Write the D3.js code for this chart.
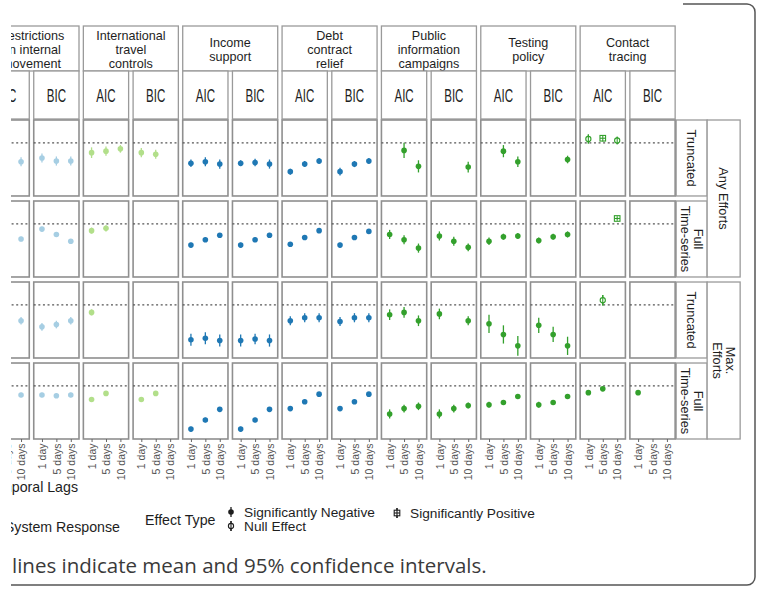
<!DOCTYPE html>
<html lang="en">
<head>
<meta charset="utf-8">
<title>Policy effects by lag</title>
<script src="https://d3js.org/d3.v7.min.js"></script>
<style>
body { margin: 0; background: #fff; }
</style>
</head>
<body>
<div id="chart"></div>
<script>

var w = 763;
var h = 597;

var policies = ["Restrictions\non internal\nmovement", "International\ntravel\ncontrols", "Income\nsupport",
  "Debt\ncontract\nrelief", "Public\ninformation\ncampaigns", "Testing\npolicy", "Contact\ntracing"];
var policyColors = ["#a6cee3", "#b2df8a", "#1f78b4", "#1f78b4", "#33a02c", "#33a02c", "#33a02c"];
var criteria = ["AIC", "BIC"];
var lags = ["1 day", "5 days", "10 days"];
var samples = ["Truncated", "Full\nTime-series"];
var efforts = ["Any Efforts", "Max.\nEfforts"];

// estimates, one line per policy: AIC (1, 5, 10 days) then BIC (1, 5, 10 days)
var estAnyTrunc = [
  null, null, -0.25,  -0.20, -0.24, -0.24,
  -0.13, -0.11, -0.08,  -0.13, -0.15, null,
  -0.27, -0.25, -0.28,  -0.27, -0.26, -0.28,
  -0.38, -0.28, -0.24,  -0.38, -0.28, -0.24,
  null, -0.10, -0.31,  null, null, -0.32,
  null, -0.11, -0.25,  null, null, -0.22,
  0.05, 0.06, 0.03,  null, null, null
];
var ciAnyTrunc = [
  0, 0, 0.06,  0.06, 0.06, 0.06,
  0.07, 0.06, 0.05,  0.06, 0.06, 0,
  0.05, 0.06, 0.06,  0.04, 0.05, 0.06,
  0.04, 0.04, 0.04,  0.05, 0.04, 0.04,
  0, 0.10, 0.08,  0, 0, 0.07,
  0, 0.08, 0.07,  0, 0, 0.05,
  0.06, 0.04, 0.05,  0, 0, 0
];
var effAnyTrunc = [
  "N", "N", "N",  "N", "N", "N",
  "N", "N", "N",  "N", "N", "N",
  "N", "N", "N",  "N", "N", "N",
  "N", "N", "N",  "N", "N", "N",
  "N", "N", "N",  "N", "N", "N",
  "N", "N", "N",  "N", "N", "N",
  "0", "P", "0",  "N", "N", "N"
];

var estAnyFull = [
  null, null, -0.20,  -0.07, -0.14, -0.23,
  -0.09, -0.06, null,  null, null, null,
  -0.28, -0.21, -0.15,  -0.28, -0.21, -0.15,
  -0.27, -0.18, -0.09,  -0.28, -0.18, -0.10,
  -0.14, -0.21, -0.32,  -0.16, -0.23, -0.31,
  -0.23, -0.17, -0.16,  -0.22, -0.17, -0.14,
  null, null, 0.07,  null, null, null
];
var ciAnyFull = [
  0, 0, 0.03,  0.03, 0.03, 0.03,
  0.04, 0.04, 0,  0, 0, 0,
  0.03, 0.03, 0.03,  0.03, 0.03, 0.03,
  0.03, 0.03, 0.03,  0.03, 0.03, 0.03,
  0.06, 0.06, 0.06,  0.06, 0.06, 0.05,
  0.05, 0.04, 0.04,  0.04, 0.04, 0.04,
  0, 0, 0.03,  0, 0, 0
];
var effAnyFull = [
  "N", "N", "N",  "N", "N", "N",
  "N", "N", "N",  "N", "N", "N",
  "N", "N", "N",  "N", "N", "N",
  "N", "N", "N",  "N", "N", "N",
  "N", "N", "N",  "N", "N", "N",
  "N", "N", "N",  "N", "N", "N",
  "N", "N", "P",  "N", "N", "N"
];

var estMaxTrunc = [
  null, null, -0.21,  -0.29, -0.26, -0.21,
  -0.10, null, null,  null, null, null,
  -0.46, -0.44, -0.47,  -0.47, -0.45, -0.47,
  -0.21, -0.17, -0.17,  -0.22, -0.17, -0.17,
  -0.13, -0.10, -0.21,  -0.12, null, -0.21,
  -0.25, -0.39, -0.54,  -0.27, -0.39, -0.54,
  null, 0.06, null,  null, null, null
];
var ciMaxTrunc = [
  0, 0, 0.05,  0.05, 0.05, 0.05,
  0.04, 0, 0,  0, 0, 0,
  0.08, 0.08, 0.08,  0.08, 0.07, 0.08,
  0.06, 0.06, 0.06,  0.06, 0.06, 0.06,
  0.07, 0.07, 0.07,  0.07, 0, 0.06,
  0.12, 0.12, 0.13,  0.10, 0.10, 0.12,
  0, 0.07, 0,  0, 0, 0
];
var effMaxTrunc = [
  "N", "N", "N",  "N", "N", "N",
  "N", "N", "N",  "N", "N", "N",
  "N", "N", "N",  "N", "N", "N",
  "N", "N", "N",  "N", "N", "N",
  "N", "N", "N",  "N", "N", "N",
  "N", "N", "N",  "N", "N", "N",
  "N", "0", "N",  "N", "N", "N"
];

var estMaxFull = [
  null, null, -0.12,  -0.12, -0.13, -0.12,
  -0.18, -0.10, null,  -0.18, -0.10, null,
  -0.57, -0.45, -0.31,  -0.57, -0.45, -0.31,
  -0.30, -0.21, -0.11,  -0.30, -0.21, -0.11,
  -0.37, -0.30, -0.27,  -0.37, -0.30, -0.26,
  -0.25, -0.22, -0.14,  -0.25, -0.22, -0.14,
  -0.09, -0.04, null,  -0.09, null, null
];
var ciMaxFull = [
  0, 0, 0.03,  0.03, 0.03, 0.03,
  0.03, 0.03, 0,  0.03, 0.03, 0,
  0.03, 0.03, 0.03,  0.03, 0.03, 0.03,
  0.03, 0.03, 0.03,  0.03, 0.03, 0.03,
  0.06, 0.05, 0.05,  0.06, 0.05, 0.04,
  0.04, 0.03, 0.03,  0.04, 0.03, 0.03,
  0.02, 0.02, 0,  0.02, 0, 0
];
var effMaxFull = [
  "N", "N", "N",  "N", "N", "N",
  "N", "N", "N",  "N", "N", "N",
  "N", "N", "N",  "N", "N", "N",
  "N", "N", "N",  "N", "N", "N",
  "N", "N", "N",  "N", "N", "N",
  "N", "N", "N",  "N", "N", "N",
  "N", "N", "N",  "N", "N", "N"
];

var effectTypes = ["N", "0", "P"];
var effectLabels = ["Significantly Negative", "Null Effect", "Significantly Positive"];

var rows = [
  {effort: 0, sample: 0, est: estAnyTrunc, ci: ciAnyTrunc, eff: effAnyTrunc},
  {effort: 0, sample: 1, est: estAnyFull, ci: ciAnyFull, eff: effAnyFull},
  {effort: 1, sample: 0, est: estMaxTrunc, ci: ciMaxTrunc, eff: effMaxTrunc},
  {effort: 1, sample: 1, est: estMaxFull, ci: ciMaxFull, eff: effMaxFull}
];

var font = "'Liberation Sans', Arial, sans-serif";
var stripStroke = "#9a9a9a";
var ink = "#1e1e1e";

var root = d3.select("#chart").append("svg")
  .attr("width", w)
  .attr("height", h)
  .style("font-family", font);

// the figure is shown cut at its left side
root.append("clipPath").attr("id", "cut")
  .append("rect").attr("x", 11).attr("y", 0).attr("width", w - 11).attr("height", h);
var svg = root.append("g").attr("clip-path", "url(#cut)");

// scales
var xGroup = d3.scaleBand().domain(d3.range(policies.length)).range([-16, 679.5]);
var xCrit = d3.scaleBand().domain(criteria).range([0, 95]).paddingInner(0.09);
var pw = xCrit.bandwidth();
var xLag = d3.scalePoint().domain(lags).range([0, pw]).padding(0.57);
var yRow = d3.scaleBand().domain(d3.range(rows.length)).range([120, 439]).paddingInner(0.062);
var ph = yRow.bandwidth();
var yVal = d3.scaleLinear().domain([-0.7, 0.3]).range([ph, 0]);

function multiline(sel, txt, lineH, shift) {
  var parts = txt.split("\n");
  parts.forEach(function(p, i) {
    sel.append("tspan")
      .attr("x", 0)
      .attr("dy", i == 0 ? (-(parts.length - 1) / 2 * lineH + shift) : lineH)
      .text(p);
  });
}

function glyph(g, type, cx, cy, col, half) {
  g.append("line")
    .attr("x1", cx).attr("x2", cx)
    .attr("y1", cy - half).attr("y2", cy + half)
    .attr("stroke", col).attr("stroke-width", 1.3);
  if (type == "N") {
    g.append("circle").attr("cx", cx).attr("cy", cy).attr("r", 2.8).attr("fill", col);
  } else if (type == "0") {
    g.append("circle").attr("cx", cx).attr("cy", cy).attr("r", 2.6)
      .attr("fill", "#fff").attr("stroke", col).attr("stroke-width", 1.1);
    g.append("line").attr("x1", cx).attr("x2", cx).attr("y1", cy - half).attr("y2", cy + half)
      .attr("stroke", col).attr("stroke-width", 1.1);
  } else {
    g.append("rect").attr("x", cx - 2.8).attr("y", cy - 2.8).attr("width", 5.6).attr("height", 5.6)
      .attr("fill", "#fff").attr("stroke", col).attr("stroke-width", 1.1);
    g.append("line").attr("x1", cx - 2.8).attr("x2", cx + 2.8).attr("y1", cy).attr("y2", cy)
      .attr("stroke", col).attr("stroke-width", 1.1);
    g.append("line").attr("x1", cx).attr("x2", cx).attr("y1", cy - half).attr("y2", cy + half)
      .attr("stroke", col).attr("stroke-width", 1.1);
  }
}

// frame of the surrounding box
svg.append("path")
  .attr("d", "M683,4 H747 A8,8 0 0 1 755,12 V577 A8,8 0 0 1 747,585 H-10")
  .attr("fill", "none")
  .attr("stroke", "#555")
  .attr("stroke-width", 1.5);

// policy strips
policies.forEach(function(p, i) {
  var x0 = xGroup(i);
  var x1 = xGroup(i) + xCrit("BIC") + pw;
  svg.append("rect")
    .attr("x", x0).attr("y", 26).attr("width", x1 - x0).attr("height", 45)
    .attr("fill", "#fff").attr("stroke", stripStroke).attr("stroke-width", 1.3);
  var t = svg.append("text")
    .attr("transform", "translate(" + ((x0 + x1) / 2) + ",49.7)")
    .attr("text-anchor", "middle")
    .attr("font-size", 12.6)
    .attr("fill", ink);
  multiline(t, p, 13.8, 4.5);

  criteria.forEach(function(c) {
    svg.append("rect")
      .attr("x", x0 + xCrit(c)).attr("y", 71).attr("width", pw).attr("height", 48)
      .attr("fill", "#fff").attr("stroke", stripStroke).attr("stroke-width", 1.3);
    svg.append("text")
      .attr("transform", "translate(" + (x0 + xCrit(c) + pw / 2) + ",101.5) scale(0.66,1)")
      .attr("text-anchor", "middle")
      .attr("font-size", 17.5)
      .attr("fill", ink)
      .text(c);
  });
});

// right strips
var rx0 = xGroup(policies.length - 1) + xCrit("BIC") + pw + 1;
rows.forEach(function(r, i) {
  svg.append("rect")
    .attr("x", rx0).attr("y", yRow(i)).attr("width", 31).attr("height", ph)
    .attr("fill", "#fff").attr("stroke", stripStroke).attr("stroke-width", 1.3);
  var t = svg.append("text")
    .attr("transform", "translate(" + (rx0 + 15.5) + "," + (yRow(i) + ph / 2) + ") rotate(90)")
    .attr("text-anchor", "middle")
    .attr("font-size", 12.8)
    .attr("fill", ink);
  multiline(t, samples[r.sample], 13, 4.6);
});
efforts.forEach(function(e, k) {
  var top = yRow(k * 2);
  var bot = yRow(k * 2 + 1) + ph;
  svg.append("rect")
    .attr("x", rx0 + 31).attr("y", top).attr("width", 33).attr("height", bot - top)
    .attr("fill", "#fff").attr("stroke", stripStroke).attr("stroke-width", 1.3);
  var t = svg.append("text")
    .attr("transform", "translate(" + (rx0 + 47.5) + "," + ((top + bot) / 2) + ") rotate(90)")
    .attr("text-anchor", "middle")
    .attr("font-size", 12.8)
    .attr("fill", ink);
  multiline(t, e, 13, 4.6);
});

// panels
rows.forEach(function(r, ri) {
  policies.forEach(function(p, pi) {
    criteria.forEach(function(c, ci) {
      var g = svg.append("g")
        .attr("transform", "translate(" + (xGroup(pi) + xCrit(c)) + "," + yRow(ri) + ")");
      g.append("rect")
        .attr("width", pw).attr("height", ph)
        .attr("fill", "#fff").attr("stroke", "#8f8f8f").attr("stroke-width", 1.6);
      g.append("line")
        .attr("x1", 0).attr("x2", pw)
        .attr("y1", yVal(0)).attr("y2", yVal(0))
        .attr("stroke", "#555").attr("stroke-width", 1.2)
        .attr("stroke-dasharray", "2,2.6");
      lags.forEach(function(l, li) {
        var idx = pi * 6 + ci * 3 + li;
        var v = r.est[idx];
        if (v === null) return;
        var half = yVal(0) - yVal(r.ci[idx]);
        glyph(g, r.eff[idx], xLag(l), yVal(v), policyColors[pi], half);
      });
      if (ri == rows.length - 1) {
        var ax = g.append("g")
          .attr("transform", "translate(0," + ph + ")")
          .call(d3.axisBottom(xLag).tickSize(3).tickSizeOuter(0));
        ax.select(".domain").remove();
        ax.selectAll(".tick line").attr("stroke", "#666");
        ax.selectAll(".tick text")
          .attr("transform", "rotate(-90)")
          .attr("x", -4.5).attr("y", 0).attr("dy", "0.35em")
          .style("text-anchor", "end")
          .style("font-family", font)
          .style("font-size", "10.5px")
          .attr("fill", "#555");
      }
    });
  });
});

// axis title
svg.append("text")
  .attr("x", 78).attr("y", 492)
  .attr("text-anchor", "end")
  .attr("font-size", 14.2)
  .attr("fill", ink)
  .text("Temporal Lags");

// legends
svg.append("text")
  .attr("x", 120).attr("y", 532)
  .attr("text-anchor", "end")
  .attr("font-size", 14.2)
  .attr("fill", ink)
  .text("System Response");

svg.append("text")
  .attr("x", 145).attr("y", 525)
  .attr("font-size", 14.2)
  .attr("fill", ink)
  .text("Effect Type");

var legPos = [[231, 512], [231, 526], [397, 513]];
effectTypes.forEach(function(t, i) {
  glyph(svg, t, legPos[i][0], legPos[i][1], ink, 5);
  svg.append("text")
    .attr("x", legPos[i][0] + 13).attr("y", legPos[i][1] + 5)
    .attr("font-size", 13.7)
    .attr("fill", ink)
    .text(effectLabels[i]);
});

// caption
svg.append("text")
  .attr("x", 12).attr("y", 573)
  .style("font-family", "'Open Sans', 'Noto Sans', sans-serif")
  .attr("font-size", 20.5)
  .attr("fill", "#3a3a3a")
  .text("lines indicate mean and 95% confidence intervals.");

</script>
</body>
</html>
